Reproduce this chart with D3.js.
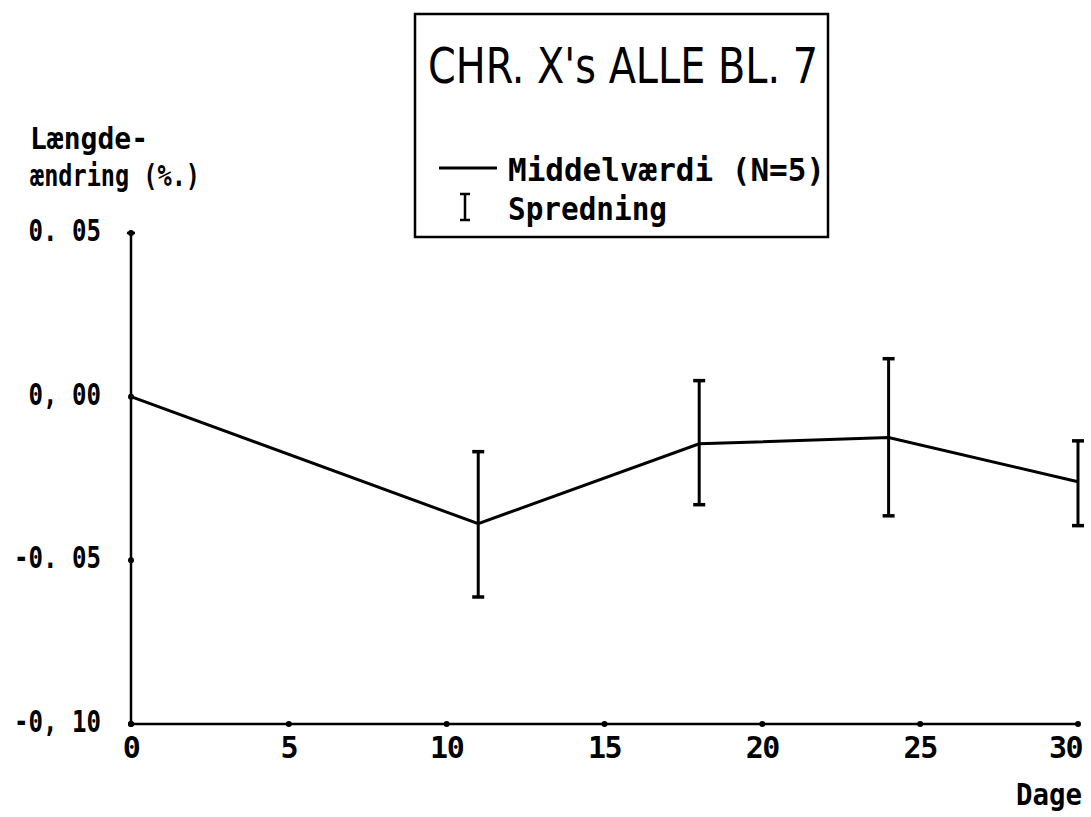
<!DOCTYPE html>
<html>
<head>
<meta charset="utf-8">
<script src="https://cdn.jsdelivr.net/npm/d3@7"></script>
<style>
  body { margin: 0; background: #fff; }
  text { fill: #000; }
  .lab { font-family: "DejaVu Sans Mono", monospace; font-weight: bold; }
</style>
</head>
<body>
<div id="chart"></div>
<script>
// data
const days = [0, 11, 18, 24, 30];
const means = [0.0, -0.0388, -0.0144, -0.0125, -0.026];
const upper = [null, -0.0168, 0.0049, 0.0116, -0.0135];
const lower = [null, -0.0612, -0.033, -0.0364, -0.0394];
const xTicks = [0, 5, 10, 15, 20, 25, 30];
const yTicks = [0.05, 0.0, -0.05, -0.10];
const yTickLabels = ["0. 05", "0, 00", "-0. 05", "-0, 10"];

const width = 1091, height = 817;

const svg = d3.select("#chart").append("svg")
    .attr("width", width)
    .attr("height", height);

const x = d3.scaleLinear().domain([0, 30]).range([131, 1078]);
const y = d3.scaleLinear().domain([-0.10, 0.05]).range([724, 233]);

// axes
svg.append("line")
    .attr("x1", x(0)).attr("x2", x(0))
    .attr("y1", y(0.05)).attr("y2", y(-0.10))
    .attr("stroke", "#000").attr("stroke-width", 2.5);
svg.append("line")
    .attr("x1", x(0)).attr("x2", x(30))
    .attr("y1", y(-0.10)).attr("y2", y(-0.10))
    .attr("stroke", "#000").attr("stroke-width", 2.5);
// top cap of y axis
svg.append("line")
    .attr("x1", x(0) - 4).attr("x2", x(0) + 4)
    .attr("y1", y(0.05)).attr("y2", y(0.05))
    .attr("stroke", "#000").attr("stroke-width", 2.5);

// tick dots
svg.selectAll(".yt").data(yTicks).enter().append("circle")
    .attr("cx", x(0)).attr("cy", d => y(d)).attr("r", 3);
svg.selectAll(".xt").data(xTicks).enter().append("circle")
    .attr("cx", d => x(d)).attr("cy", y(-0.10)).attr("r", 3);

// tick labels
svg.selectAll(".ytl").data(yTicks).enter().append("text")
    .attr("class", "lab")
    .attr("x", 101)
    .attr("y", d => y(d) + 8)
    .attr("text-anchor", "end")
    .attr("font-size", 30)
    .attr("textLength", (d, i) => yTickLabels[i].length * 14.5)
    .attr("lengthAdjust", "spacingAndGlyphs")
    .text((d, i) => yTickLabels[i]);

svg.selectAll(".xtl").data(xTicks).enter().append("text")
    .attr("class", "lab")
    .attr("x", d => d === 30 ? x(d) + 4 : x(d))
    .attr("y", 758)
    .attr("text-anchor", d => d === 30 ? "end" : "middle")
    .attr("font-size", 30)
    .attr("letter-spacing", -1.5)
    .text(d => d);

// axis titles
svg.append("text").attr("class", "lab")
    .attr("x", 30).attr("y", 149)
    .attr("font-size", 30)
    .attr("textLength", 118).attr("lengthAdjust", "spacingAndGlyphs")
    .text("Længde-");
svg.append("text").attr("class", "lab")
    .attr("x", 30).attr("y", 186)
    .attr("font-size", 30)
    .attr("textLength", 170).attr("lengthAdjust", "spacingAndGlyphs")
    .text("ændring (%.)");
svg.append("text").attr("class", "lab")
    .attr("x", 1016).attr("y", 805)
    .attr("font-size", 31)
    .attr("textLength", 66).attr("lengthAdjust", "spacingAndGlyphs")
    .text("Dage");

// mean line
const line = d3.line()
    .x((d, i) => x(days[i]))
    .y(d => y(d));
svg.append("path")
    .datum(means)
    .attr("d", line)
    .attr("fill", "none")
    .attr("stroke", "#000")
    .attr("stroke-width", 3);

// error bars (spredning)
const bars = days.map((d, i) => ({ day: d, hi: upper[i], lo: lower[i] }))
    .filter(d => d.hi !== null);

const eb = svg.selectAll(".eb").data(bars).enter().append("g");
eb.append("line")
    .attr("x1", d => x(d.day)).attr("x2", d => x(d.day))
    .attr("y1", d => y(d.hi)).attr("y2", d => y(d.lo))
    .attr("stroke", "#000").attr("stroke-width", 3);
eb.append("line")
    .attr("x1", d => x(d.day) - 6).attr("x2", d => x(d.day) + 6)
    .attr("y1", d => y(d.hi)).attr("y2", d => y(d.hi))
    .attr("stroke", "#000").attr("stroke-width", 3.5);
eb.append("line")
    .attr("x1", d => x(d.day) - 6).attr("x2", d => x(d.day) + 6)
    .attr("y1", d => y(d.lo)).attr("y2", d => y(d.lo))
    .attr("stroke", "#000").attr("stroke-width", 3.5);

// legend box
const lg = svg.append("g");
lg.append("rect")
    .attr("x", 415).attr("y", 14)
    .attr("width", 413).attr("height", 223)
    .attr("fill", "none")
    .attr("stroke", "#000").attr("stroke-width", 2.5);
lg.append("text")
    .attr("x", 428).attr("y", 83)
    .attr("font-family", "'DejaVu Sans Condensed', sans-serif")
    .attr("font-weight", 300)
    .attr("font-size", 49)
    .attr("textLength", 390).attr("lengthAdjust", "spacingAndGlyphs")
    .text("CHR. X's ALLE BL. 7");
lg.append("line")
    .attr("x1", 439).attr("x2", 497)
    .attr("y1", 168).attr("y2", 168)
    .attr("stroke", "#000").attr("stroke-width", 3);
lg.append("text").attr("class", "lab")
    .attr("x", 508).attr("y", 181)
    .attr("font-size", 32)
    .attr("textLength", 317).attr("lengthAdjust", "spacingAndGlyphs")
    .text("Middelværdi (N=5)");
lg.append("line")
    .attr("x1", 465).attr("x2", 465)
    .attr("y1", 194).attr("y2", 220)
    .attr("stroke", "#000").attr("stroke-width", 2.5);
lg.append("line")
    .attr("x1", 460).attr("x2", 470)
    .attr("y1", 194).attr("y2", 194)
    .attr("stroke", "#000").attr("stroke-width", 2.5);
lg.append("line")
    .attr("x1", 460).attr("x2", 470)
    .attr("y1", 220).attr("y2", 220)
    .attr("stroke", "#000").attr("stroke-width", 2.5);
lg.append("text").attr("class", "lab")
    .attr("x", 508).attr("y", 220)
    .attr("font-size", 32)
    .attr("textLength", 159).attr("lengthAdjust", "spacingAndGlyphs")
    .text("Spredning");
</script>
</body>
</html>
